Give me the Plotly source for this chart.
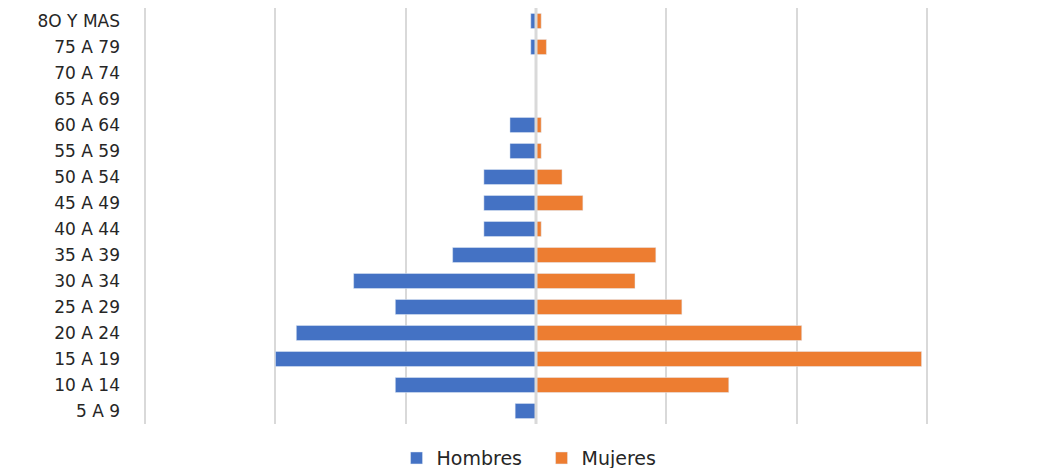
import plotly.graph_objects as go

categories = ["5 A 9", "10 A 14", "15 A 19", "20 A 24", "25 A 29", "30 A 34",
              "35 A 39", "40 A 44", "45 A 49", "50 A 54", "55 A 59", "60 A 64",
              "65 A 69", "70 A 74", "75 A 79", "8O Y MAS"]
hombres = [4, 27, 50, 46, 27, 35, 16, 10, 10, 10, 5, 5, 0, 0, 1, 1]
mujeres = [0, 37, 74, 51, 28, 19, 23, 1, 9, 5, 1, 1, 0, 0, 2, 1]
grid_ticks = [-75, -50, -25, 0, 25, 50, 75]

FONT = "DejaVu Sans"
TEXT_COLOR = "#262626"

fig = go.Figure()
fig.add_trace(go.Bar(
    y=categories, x=[-v for v in hombres], name="Hombres", orientation="h",
    marker=dict(color="#4472C4"), width=0.58,
    customdata=hombres, hovertemplate="%{y}: %{customdata}<extra>Hombres</extra>",
))
fig.add_trace(go.Bar(
    y=categories, x=mujeres, name="Mujeres", orientation="h",
    marker=dict(color="#ED7D31"), width=0.58,
    hovertemplate="%{y}: %{x}<extra>Mujeres</extra>",
))

# center axis line drawn over bars (as in the reference)
fig.add_shape(type="line", xref="x", yref="paper", x0=0, x1=0, y0=0, y1=1,
              line=dict(color="#d9d9d9", width=3), layer="above")

fig.update_layout(
    width=1048, height=468,
    margin=dict(l=140, r=116, t=8, b=44, autoexpand=False),
    barmode="relative",
    plot_bgcolor="white", paper_bgcolor="white",
    font=dict(family=FONT, size=17, color=TEXT_COLOR),
    showlegend=True,
    legend=dict(orientation="h", x=0.507, xanchor="center", y=-0.082, yanchor="middle",
                font=dict(family=FONT, size=19, color=TEXT_COLOR),
                traceorder="normal", itemwidth=30, entrywidth=100),
    xaxis=dict(range=[-76, 76], tickvals=grid_ticks, showticklabels=False,
               showgrid=True, gridcolor="#d9d9d9", gridwidth=2,
               zeroline=False, showline=False, fixedrange=True),
    yaxis=dict(categoryorder="array", categoryarray=categories,
               showgrid=False, zeroline=False, showline=False,
               ticks="", ticklabelstandoff=19,
               tickfont=dict(family=FONT, size=17, color=TEXT_COLOR)),
)

fig.write_html("out.html")
